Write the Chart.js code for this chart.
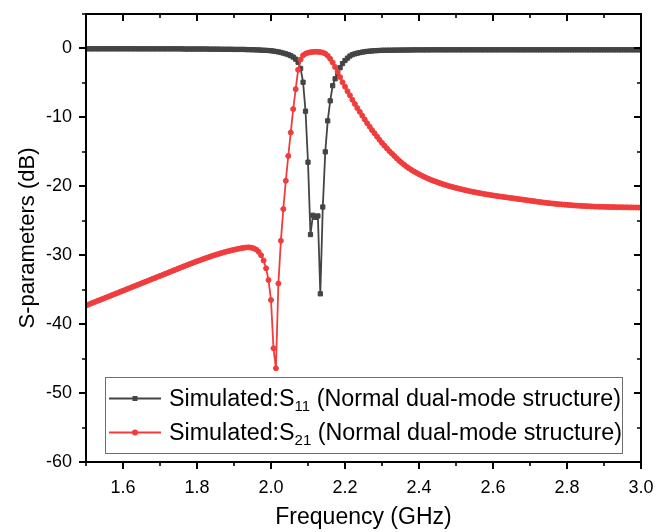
<!DOCTYPE html>
<html><head><meta charset="utf-8">
<script src="https://cdn.jsdelivr.net/npm/chart.js@4/dist/chart.umd.min.js"></script>
<style>html,body{margin:0;padding:0;background:#fff}canvas{display:block}</style>
</head><body>
<canvas id="c" width="672" height="532"></canvas>
<script>
// Frequency sweep (GHz)
const freq = [
1.5,1.5067,1.5133,1.52,1.5267,1.5333,1.54,1.5467,1.5533,1.56,1.5667,1.5733,1.58,1.5867,1.5933,
1.6,1.6067,1.6133,1.62,1.6267,1.6333,1.64,1.6467,1.6533,1.66,1.6667,1.6733,1.68,1.6867,1.6933,
1.7,1.7067,1.7133,1.72,1.7267,1.7333,1.74,1.7467,1.7533,1.76,1.7667,1.7733,1.78,1.7867,1.7933,
1.8,1.8067,1.8133,1.82,1.8267,1.8333,1.84,1.8467,1.8533,1.86,1.8667,1.8733,1.88,1.8867,1.8933,
1.9,1.9067,1.9133,1.92,1.9267,1.9333,1.94,1.9467,1.9533,1.96,1.9667,1.9733,1.98,1.9867,1.9933,
2.0,2.0067,2.0133,2.02,2.0267,2.0333,2.04,2.0467,2.0533,2.06,2.0667,2.0733,2.08,2.0867,2.0933,
2.1,2.1067,2.1133,2.12,2.1267,2.1333,2.14,2.1467,2.1533,2.16,2.1667,2.1733,2.18,2.1867,2.1933,
2.2,2.2067,2.2133,2.22,2.2267,2.2333,2.24,2.2467,2.2533,2.26,2.2667,2.2733,2.28,2.2867,2.2933,
2.3,2.3067,2.3133,2.32,2.3267,2.3333,2.34,2.3467,2.3533,2.36,2.3667,2.3733,2.38,2.3867,2.3933,
2.4,2.4067,2.4133,2.42,2.4267,2.4333,2.44,2.4467,2.4533,2.46,2.4667,2.4733,2.48,2.4867,2.4933,
2.5,2.5067,2.5133,2.52,2.5267,2.5333,2.54,2.5467,2.5533,2.56,2.5667,2.5733,2.58,2.5867,2.5933,
2.6,2.6067,2.6133,2.62,2.6267,2.6333,2.64,2.6467,2.6533,2.66,2.6667,2.6733,2.68,2.6867,2.6933,
2.7,2.7067,2.7133,2.72,2.7267,2.7333,2.74,2.7467,2.7533,2.76,2.7667,2.7733,2.78,2.7867,2.7933,
2.8,2.8067,2.8133,2.82,2.8267,2.8333,2.84,2.8467,2.8533,2.86,2.8667,2.8733,2.88,2.8867,2.8933,
2.9,2.9067,2.9133,2.92,2.9267,2.9333,2.94,2.9467,2.9533,2.96,2.9667,2.9733,2.98,2.9867,2.9933,
3.0];

// S11 (dB)
const s11 = [
-0.05,-0.05,-0.05,-0.05,-0.05,-0.05,-0.05,-0.05,-0.05,-0.05,-0.05,-0.05,-0.05,-0.05,-0.05,
-0.05,-0.05,-0.05,-0.05,-0.05,-0.06,-0.06,-0.06,-0.06,-0.06,-0.06,-0.06,-0.06,-0.06,-0.06,
-0.06,-0.06,-0.06,-0.06,-0.06,-0.06,-0.06,-0.06,-0.06,-0.06,-0.08,-0.08,-0.08,-0.08,-0.08,
-0.08,-0.08,-0.08,-0.08,-0.08,-0.10,-0.10,-0.10,-0.10,-0.10,-0.12,-0.12,-0.12,-0.12,-0.12,
-0.14,-0.14,-0.14,-0.14,-0.14,-0.16,-0.17,-0.18,-0.19,-0.21,-0.22,-0.24,-0.26,-0.28,-0.30,
-0.33,-0.38,-0.44,-0.50,-0.58,-0.67,-0.78,-0.90,-1.05,-1.25,-1.55,-2.00,-2.90,-4.90,-9.10,
-16.50,-27.00,-24.20,-24.50,-24.30,-35.60,-23.00,-15.00,-10.50,-7.60,-5.40,-4.40,-3.60,-2.80,-2.20,
-1.75,-1.40,-1.10,-0.90,-0.78,-0.68,-0.60,-0.53,-0.47,-0.42,-0.39,-0.36,-0.33,-0.31,-0.29,
-0.27,-0.26,-0.26,-0.25,-0.25,-0.24,-0.24,-0.23,-0.23,-0.23,-0.22,-0.22,-0.22,-0.21,-0.21,
-0.21,-0.21,-0.21,-0.21,-0.21,-0.20,-0.20,-0.20,-0.20,-0.20,-0.20,-0.20,-0.20,-0.20,-0.20,
-0.20,-0.20,-0.20,-0.20,-0.20,-0.20,-0.20,-0.20,-0.20,-0.20,-0.20,-0.20,-0.20,-0.20,-0.20,
-0.20,-0.20,-0.20,-0.20,-0.20,-0.20,-0.20,-0.20,-0.20,-0.20,-0.20,-0.20,-0.20,-0.20,-0.20,
-0.20,-0.20,-0.20,-0.20,-0.20,-0.20,-0.20,-0.20,-0.20,-0.20,-0.20,-0.20,-0.20,-0.20,-0.20,
-0.20,-0.20,-0.20,-0.20,-0.20,-0.20,-0.20,-0.20,-0.20,-0.20,-0.20,-0.20,-0.20,-0.20,-0.20,
-0.20,-0.20,-0.20,-0.20,-0.20,-0.20,-0.20,-0.20,-0.20,-0.20,-0.20,-0.20,-0.20,-0.20,-0.20,
-0.20];

// S21 (dB)
const s21 = [
-37.30,-37.16,-37.01,-36.87,-36.73,-36.58,-36.44,-36.30,-36.15,-36.01,-35.87,-35.72,-35.58,-35.44,-35.29,
-35.15,-35.01,-34.86,-34.72,-34.58,-34.43,-34.29,-34.15,-34.00,-33.86,-33.72,-33.57,-33.43,-33.29,-33.14,
-33.00,-32.86,-32.71,-32.57,-32.43,-32.28,-32.14,-32.00,-31.85,-31.71,-31.57,-31.43,-31.29,-31.15,-31.01,
-30.88,-30.75,-30.62,-30.49,-30.36,-30.24,-30.12,-30.00,-29.89,-29.78,-29.67,-29.57,-29.47,-29.38,-29.29,
-29.20,-29.12,-29.05,-28.98,-28.92,-28.88,-28.86,-28.90,-29.00,-29.18,-29.50,-30.00,-30.75,-31.90,-33.60,
-36.50,-43.50,-46.40,-34.10,-27.90,-23.30,-19.20,-15.60,-12.20,-8.80,-5.90,-3.10,-1.60,-1.00,-0.75,
-0.62,-0.54,-0.50,-0.48,-0.49,-0.53,-0.60,-0.75,-1.05,-1.50,-2.05,-2.70,-3.40,-4.15,-4.90,
-5.55,-6.20,-6.80,-7.45,-8.05,-8.65,-9.20,-9.75,-10.30,-10.85,-11.35,-11.85,-12.30,-12.80,-13.25,
-13.70,-14.10,-14.50,-14.90,-15.25,-15.60,-15.95,-16.30,-16.60,-16.88,-17.15,-17.40,-17.63,-17.85,-18.05,
-18.25,-18.43,-18.60,-18.77,-18.93,-19.08,-19.22,-19.35,-19.48,-19.60,-19.72,-19.83,-19.94,-20.04,-20.14,
-20.23,-20.32,-20.41,-20.50,-20.58,-20.66,-20.74,-20.81,-20.88,-20.95,-21.02,-21.08,-21.14,-21.20,-21.26,
-21.32,-21.38,-21.43,-21.48,-21.53,-21.58,-21.63,-21.68,-21.73,-21.78,-21.83,-21.88,-21.93,-21.98,-22.03,
-22.08,-22.13,-22.18,-22.23,-22.28,-22.33,-22.37,-22.41,-22.45,-22.49,-22.53,-22.57,-22.60,-22.63,-22.66,
-22.69,-22.72,-22.75,-22.78,-22.80,-22.82,-22.84,-22.86,-22.88,-22.90,-22.92,-22.94,-22.95,-22.96,-22.97,
-22.98,-22.99,-23.00,-23.01,-23.02,-23.03,-23.04,-23.04,-23.05,-23.05,-23.06,-23.06,-23.07,-23.07,-23.08,
-23.08];

const xTicks = [1.6, 1.8, 2.0, 2.2, 2.4, 2.6, 2.8, 3.0];
const xMinor = [1.5, 1.7, 1.9, 2.1, 2.3, 2.5, 2.7, 2.9];
const yTicks = [-60, -50, -40, -30, -20, -10, 0];
const yMinor = [-55, -45, -35, -25, -15, -5, 5];
const legendMain = ['Simulated:S', 'Simulated:S'];
const legendSub = ['11', '21'];
const legendTail = [' (Normal dual-mode structure)', ' (Normal dual-mode structure)'];

const GRAY = '#444444';
const RED = '#F03C3C';
const FONT = "'Liberation Sans', Arial, sans-serif";

const framePlugin = {
  id: 'frame',
  afterDraw(chart) {
    const { ctx, chartArea: a, scales: { x, y } } = chart;
    ctx.save();
    ctx.strokeStyle = '#000';
    ctx.lineWidth = 2;
    ctx.strokeRect(a.left, a.top, a.right - a.left, a.bottom - a.top);
    ctx.beginPath();
    const tick = (vals, len) => {
      vals.forEach(v => {
        const px = Math.round(x.getPixelForValue(v));
        if (px < a.left - 1 || px > a.right + 1) return;
        ctx.moveTo(px, a.bottom); ctx.lineTo(px, a.bottom + len);
        ctx.moveTo(px, a.top); ctx.lineTo(px, a.top + len);
      });
    };
    const tickY = (vals, len) => {
      vals.forEach(v => {
        const py = Math.round(y.getPixelForValue(v));
        if (py < a.top - 1 || py > a.bottom + 1) return;
        ctx.moveTo(a.left, py); ctx.lineTo(a.left - len, py);
        ctx.moveTo(a.right, py); ctx.lineTo(a.right - len, py);
      });
    };
    tick(xTicks, 7); tickY(yTicks, 7);
    ctx.stroke();
    ctx.beginPath();
    ctx.lineWidth = 1.6;
    tick(xMinor, 4); tickY(yMinor, 4);
    ctx.stroke();

    // legend
    const lx = 105, ly = 377, lw = 517, lh = 76;
    ctx.fillStyle = '#fff';
    ctx.fillRect(lx, ly, lw, lh);
    ctx.strokeStyle = '#6e6e6e';
    ctx.lineWidth = 1;
    ctx.strokeRect(lx + 0.5, ly + 0.5, lw, lh);
    const colors = [GRAY, RED];
    const rows = [398.5, 432.5];
    const bases = [405.5, 439.5];
    rows.forEach((ry, i) => {
      ctx.strokeStyle = colors[i];
      ctx.fillStyle = colors[i];
      ctx.lineWidth = 1.8;
      ctx.beginPath(); ctx.moveTo(109, ry); ctx.lineTo(161, ry); ctx.stroke();
      if (i === 0) { ctx.fillRect(132.5, ry - 2.5, 5, 5); }
      else { ctx.beginPath(); ctx.arc(135, ry, 3, 0, Math.PI * 2); ctx.fill(); }
      ctx.fillStyle = '#000';
      ctx.textBaseline = 'alphabetic';
      ctx.textAlign = 'left';
      let tx = 169;
      ctx.font = '23.3px ' + FONT;
      ctx.fillText(legendMain[i], tx, bases[i]);
      tx += ctx.measureText(legendMain[i]).width;
      ctx.font = '15px ' + FONT;
      ctx.fillText(legendSub[i], tx, bases[i] + 5);
      tx += ctx.measureText(legendSub[i]).width;
      ctx.font = '23.3px ' + FONT;
      ctx.fillText(legendTail[i], tx, bases[i]);
    });
    ctx.restore();
  }
};

new Chart(document.getElementById('c'), {
  type: 'line',
  data: {
    datasets: [
      {
        label: 'S21', data: freq.map((f, i) => ({ x: f, y: s21[i] })),
        borderColor: RED, backgroundColor: RED, pointBackgroundColor: RED, pointBorderColor: RED,
        pointStyle: 'circle', pointRadius: 2.5, pointBorderWidth: 1, borderWidth: 1.8,
        order: 0, clip: 0, tension: 0
      },
      {
        label: 'S11', data: freq.map((f, i) => ({ x: f, y: s11[i] })),
        borderColor: GRAY, backgroundColor: GRAY, pointBackgroundColor: GRAY, pointBorderColor: GRAY,
        pointStyle: 'rect', pointRadius: 3, pointBorderWidth: 1, borderWidth: 1.8,
        order: 1, clip: 0, tension: 0
      }
    ]
  },
  options: {
    responsive: false,
    devicePixelRatio: 1,
    animation: false,
    events: [],
    layout: { padding: { top: 14, right: 31, left: 0, bottom: 0 } },
    plugins: { legend: { display: false }, tooltip: { enabled: false } },
    scales: {
      x: {
        type: 'linear', min: 1.5, max: 3.0,
        afterFit: s => { s.height = 70; s.paddingLeft = 0; s.paddingRight = 0; },
        afterBuildTicks: s => { s.ticks = xTicks.map(v => ({ value: v })); },
        grid: { display: false, drawTicks: false },
        border: { display: false },
        ticks: { font: { family: FONT, size: 18 }, color: '#000', padding: 15, maxRotation: 0,
          callback: v => Number(v).toFixed(1) },
        title: { display: true, text: 'Frequency (GHz)', color: '#000',
          font: { family: FONT, size: 23 }, padding: { top: 0, bottom: 1 } }
      },
      y: {
        type: 'linear', min: -60, max: 5,
        afterFit: s => { s.width = 86; s.paddingTop = 0; s.paddingBottom = 0; },
        afterBuildTicks: s => { s.ticks = yTicks.map(v => ({ value: v })); },
        grid: { display: false, drawTicks: false },
        border: { display: false },
        ticks: { font: { family: FONT, size: 18 }, color: '#000', padding: 14,
          callback: v => String(v) },
        title: { display: true, text: 'S-parameters (dB)', color: '#000',
          font: { family: FONT, size: 22 }, padding: { top: 15, bottom: 0 } }
      }
    }
  },
  plugins: [framePlugin]
});
</script>
</body></html>
